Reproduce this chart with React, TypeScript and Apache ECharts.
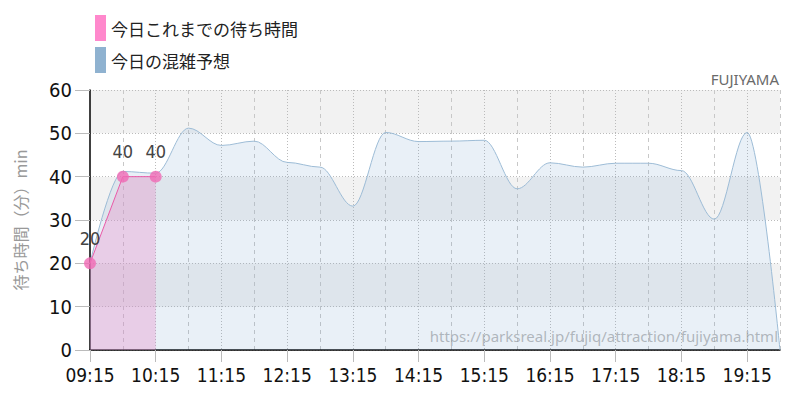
import React, { useEffect, useRef } from "react";
import * as echarts from "echarts";

const times = [
  "09:15", "09:45", "10:15", "10:45", "11:15", "11:45", "12:15", "12:45",
  "13:15", "13:45", "14:15", "14:45", "15:15", "15:45", "16:15", "16:45",
  "17:15", "17:45", "18:15", "18:45", "19:15", "19:45",
];
const forecast = [
  20, 41.2, 40.8, 51.2, 47.2, 48.2, 43.3, 42.2, 33.2, 50.2, 48.1, 48.2,
  48.4, 37.2, 43.2, 42.2, 43.1, 43.1, 41.4, 30.2, 50.2, 0,
];
const actual: (number | null)[] = [20, 40, 40];
const seriesNames = ["今日これまでの待ち時間", "今日の混雑予想"];
const yTicks = { min: 0, max: 60, interval: 10 };

const NUM_FONT = '"DejaVu Sans Condensed", "Liberation Sans Narrow", Roboto, sans-serif';
const JP_FONT = '"Noto Sans CJK JP", "Noto Sans", sans-serif';

export default function App() {
  const ref = useRef<HTMLDivElement>(null);
  useEffect(() => {
    if (!ref.current) return;
    const chart = echarts.init(ref.current, undefined, { renderer: "svg" });
    chart.setOption({
      animation: false,
      backgroundColor: "#fff",
      title: {
        text: "FUJIYAMA",
        right: 16,
        top: 66,
        textStyle: { fontFamily: '"Noto Sans", sans-serif', fontSize: 15, fontWeight: "normal", color: "#6a6a6a" },
      },
      legend: {
        orient: "vertical",
        left: 90,
        top: 10,
        itemWidth: 11,
        itemHeight: 26,
        itemGap: 6,
        icon: "rect",
        textStyle: { fontFamily: JP_FONT, fontSize: 17, color: "#222" },
        data: [
          { name: seriesNames[0], itemStyle: { color: "#ff88cc" } },
          { name: seriesNames[1], itemStyle: { color: "#8fb2d0" } },
        ],
      },
      grid: { left: 90, right: 20, top: 90, bottom: 50 },
      xAxis: [
        {
          type: "category",
          data: times,
          boundaryGap: false,
          axisLine: { lineStyle: { color: "#000", width: 1.5 } },
          axisTick: { show: true, interval: 1, length: 12, lineStyle: { color: "#bbb" } },
          axisLabel: {
            interval: 1,
            margin: 15,
            fontFamily: NUM_FONT,
            fontSize: 19,
            color: "#111",
          },
          splitLine: {
            show: true,
            interval: (i: number) => i % 2 === 1,
            lineStyle: { type: [4, 4], color: "#c8c8c8" },
          },
        },
        {
          type: "category",
          data: times,
          boundaryGap: false,
          position: "bottom",
          axisLine: { show: false },
          axisTick: { show: false },
          axisLabel: { show: false },
          splitLine: {
            show: true,
            interval: (i: number) => i % 2 === 0 && i > 0,
            lineStyle: { type: [1, 2], color: "#bbb" },
          },
        },
      ],
      yAxis: {
        type: "value",
        min: yTicks.min,
        max: yTicks.max,
        interval: yTicks.interval,
        name: "待ち時間（分）min",
        nameLocation: "middle",
        nameRotate: 90,
        nameGap: 62,
        nameTextStyle: { fontFamily: JP_FONT, fontSize: 16, color: "#999" },
        axisLine: { show: true, lineStyle: { color: "#000", width: 1.5 } },
        axisTick: { show: true, length: 15, lineStyle: { color: "#bbb" } },
        axisLabel: { margin: 18, fontFamily: NUM_FONT, fontSize: 20, color: "#111" },
        splitLine: { show: true, lineStyle: { type: [1, 2], color: "#bbb" } },
        splitArea: { show: true, areaStyle: { color: ["#ffffff", "#f2f2f2"] } },
      },
      graphic: [
        {
          type: "text",
          right: 22,
          top: 328,
          z: 10,
          style: {
            text: "https://parksreal.jp/fujiq/attraction/fujiyama.html",
            fontFamily: '"Noto Sans", sans-serif',
            fontSize: 15,
            fill: "rgba(150,156,162,0.7)",
          },
        },
      ],
      series: [
        {
          name: seriesNames[1],
          type: "line",
          data: forecast,
          smooth: 0.35,
          smoothMonotone: "x",
          symbol: "none",
          lineStyle: { color: "#9dbcd6", width: 1 },
          itemStyle: { color: "#8fb2d0" },
          areaStyle: { color: "rgba(120,164,203,0.23)" },
          z: 2,
        },
        {
          name: seriesNames[0],
          type: "line",
          data: actual,
          symbol: "circle",
          symbolSize: 12,
          lineStyle: { color: "#ea5aa8", width: 1 },
          itemStyle: { color: "rgba(240,105,180,0.8)" },
          areaStyle: { color: "rgba(232,140,200,0.5)" },
          label: {
            show: true,
            position: "top",
            distance: 10,
            fontFamily: NUM_FONT,
            fontSize: 18,
            color: "#444",
          },
          z: 3,
        },
      ],
    });
    return () => chart.dispose();
  }, []);
  return <div ref={ref} style={{ position: "fixed", left: 0, top: 0, width: 800, height: 400 }} />;
}
